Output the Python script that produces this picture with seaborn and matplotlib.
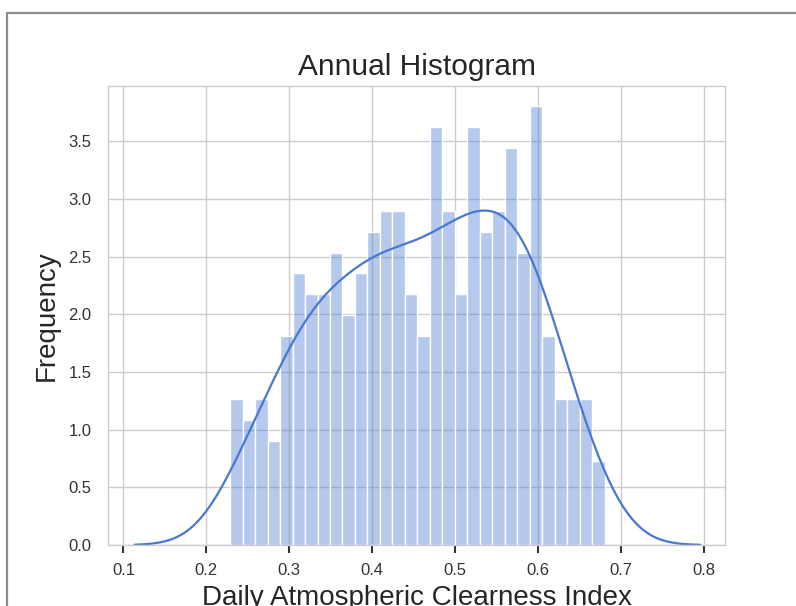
import numpy as np
import pandas as pd
import seaborn as sns
import matplotlib
matplotlib.use("Agg")
import matplotlib.pyplot as plt
from matplotlib.lines import Line2D

# ---- data ----
bin_start = 0.2287
bin_end = 0.6800
n_bins = 30
bin_counts = [7, 6, 7, 5, 10, 13, 12, 12, 14, 11,
              13, 15, 16, 16, 12, 10, 20, 16, 12, 20,
              15, 16, 19, 14, 21, 10, 7, 7, 7, 4]
x_ticks = [0.1, 0.2, 0.3, 0.4, 0.5, 0.6, 0.7, 0.8]
y_ticks = [0.0, 0.5, 1.0, 1.5, 2.0, 2.5, 3.0, 3.5]
title = "Annual Histogram"
xlabel = "Daily Atmospheric Clearness Index"
ylabel = "Frequency"

edges = np.linspace(bin_start, bin_end, n_bins + 1)
centers = (edges[:-1] + edges[1:]) / 2
values = np.repeat(centers, bin_counts)
df = pd.DataFrame({"kt": values})

sns.set_theme(style="whitegrid")
plt.rcParams["font.family"] = ["Liberation Sans", "DejaVu Sans"]

W, H = 796, 606
fig = plt.figure(figsize=(W / 100, H / 100), dpi=100)
ax_l, ax_r, ax_t, ax_b = 108, 725, 86, 545.0
ax = fig.add_axes([ax_l / W, (H - ax_b) / H, (ax_r - ax_l) / W, (ax_b - ax_t) / H])

color = "#4878d0"
sns.histplot(data=df, x="kt", bins=edges, stat="density", color=color,
             alpha=0.4, edgecolor="white", linewidth=1.0, ax=ax)
sns.kdeplot(data=df, x="kt", color=color, linewidth=1.6, cut=3,
            bw_adjust=1.18, ax=ax)

ax.set_xlim(0.0814, 0.8252)
ax.set_ylim(0, 3.98)
ax.set_xticks(x_ticks)
ax.set_xticklabels([f"{t:.1f}" for t in x_ticks])
ax.set_yticks(y_ticks)
ax.set_yticklabels([f"{t:.1f}" for t in y_ticks])
ax.tick_params(axis="x", bottom=True, length=5.8, width=1.5, color="#333333",
               labelsize=12, labelcolor="#333333", pad=7)
ax.tick_params(axis="y", left=False, labelsize=12, labelcolor="#333333", pad=6)
ax.grid(True, color="#cccccc", linewidth=1.0)
for s in ax.spines.values():
    s.set_color("#cccccc")
    s.set_linewidth(1.0)

ax.set_title(title, fontsize=21.5, color="#262626", pad=8)
ax.set_xlabel(xlabel, fontsize=20, color="#262626", labelpad=5.5)
ax.set_ylabel(ylabel, fontsize=20, color="#262626", labelpad=6)

# screenshot frame lines
fig.add_artist(Line2D([6.5 / W, 1.0], [1 - 12.5 / H, 1 - 12.5 / H],
                      transform=fig.transFigure, color="#8c8c8c", linewidth=1.6))
fig.add_artist(Line2D([6.5 / W, 6.5 / W], [0.0, 1 - 12.5 / H],
                      transform=fig.transFigure, color="#8c8c8c", linewidth=1.6))

fig.savefig("out.png", dpi=100)
